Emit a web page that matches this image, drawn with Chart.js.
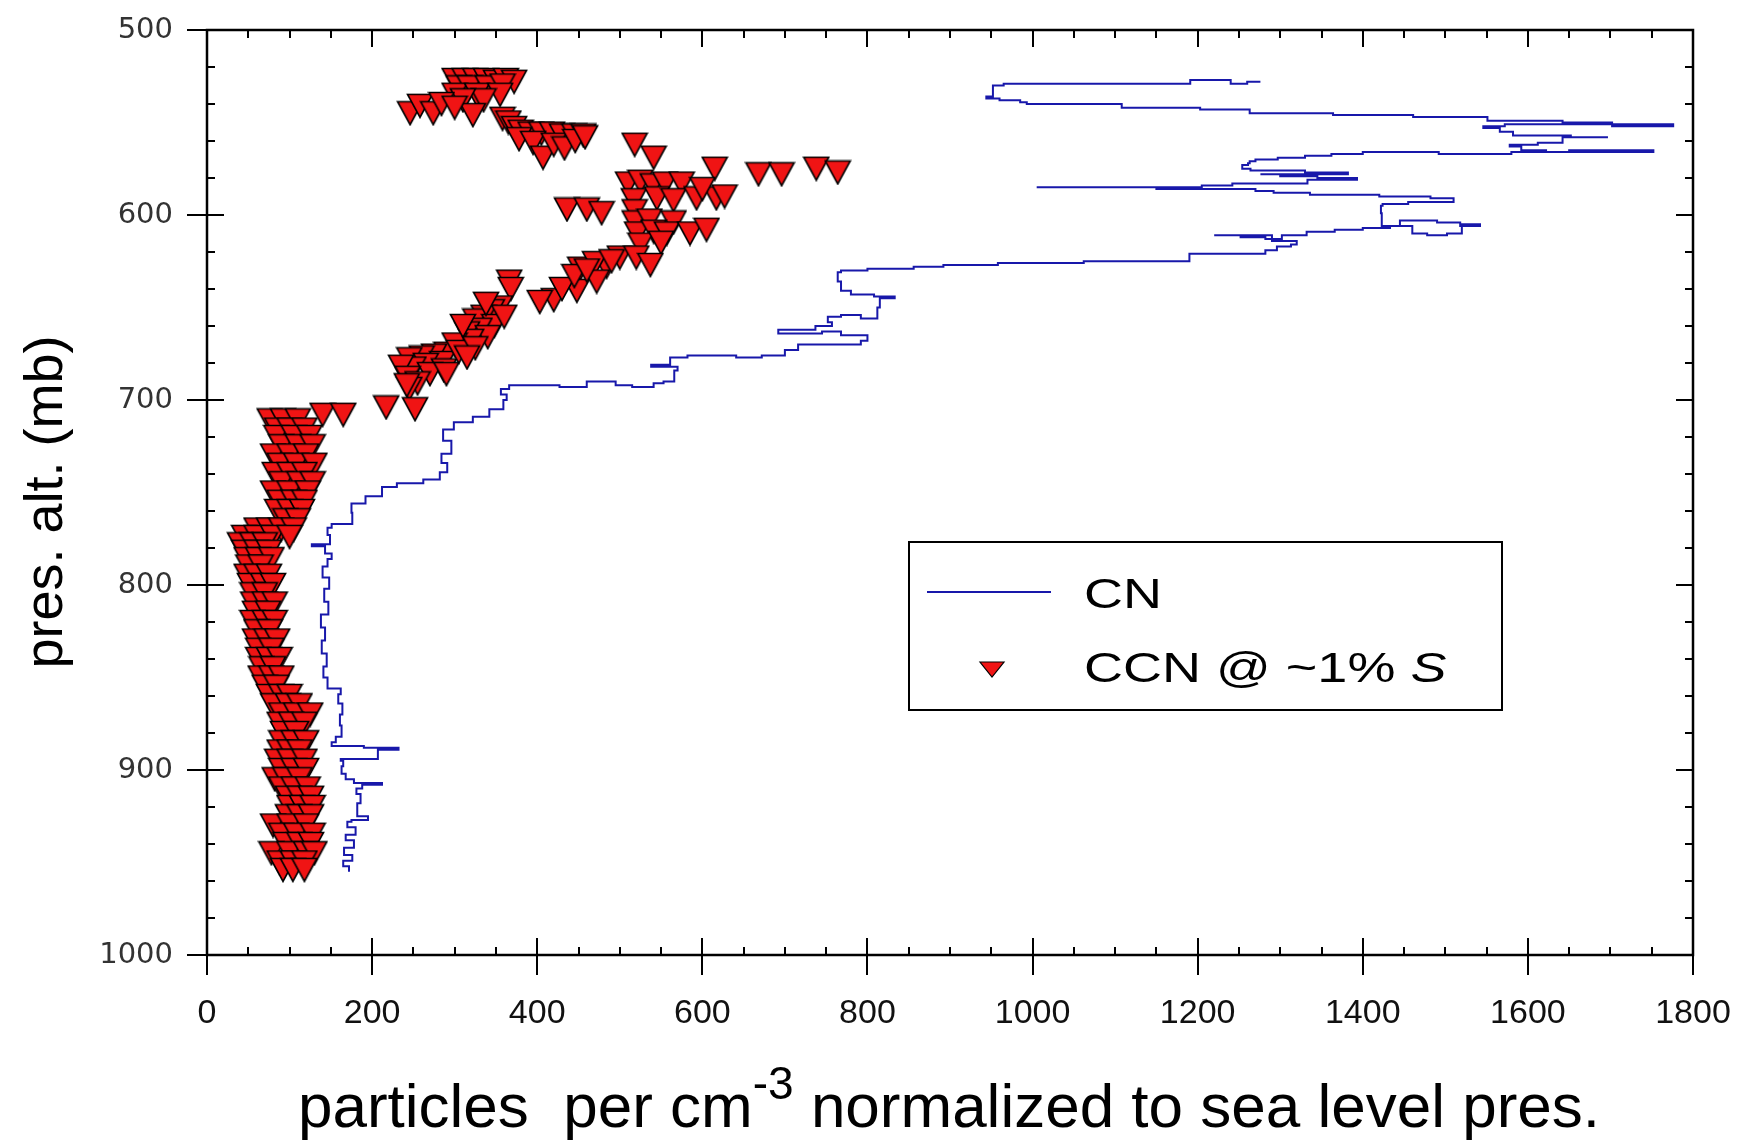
<!DOCTYPE html>
<html>
<head>
<meta charset="utf-8">
<title>CN / CCN profile</title>
<script src="https://cdn.jsdelivr.net/npm/chart.js@4.4.0/dist/chart.umd.min.js"></script>
<style>
  html, body { margin: 0; padding: 0; background: #fff; }
  canvas { display: block; }
</style>
</head>
<body>
<canvas id="grafico" width="1748" height="1141"></canvas>
<script>
// Eixos
const xTicks = [0, 200, 400, 600, 800, 1000, 1200, 1400, 1600, 1800];
const yTicks = [500, 600, 700, 800, 900, 1000];
const xMinorStep = 50;
const yMinorStep = 20;
const tituloY = "pres. alt. (mb)";
const tituloX = ["particles  per cm", "-3", " normalized to sea level pres."];
const seriesNames = ["CN", "CCN @ ~1% S"];

// CN (particulas/cm3) e pressao (mb), de baixo para cima
const cnConc = [172,165,176,166,178,168,180,170,175,195,182,186,181,188,212,178,168,163,165,162,207,232,190,151,156,163,161,164,159,162,
  146,141,145,139,143,138,147,142,148,140,146,151,143,127,149,146,151,176,175,192,
  212,230,262,282,291,284,296,286,299,322,342,359,363,356,366,385,427,460,480,495,
  515,541,553,566,570,538,561,582,605,641,672,700,716,720,756,792,800,768,745,692,
  737,757,752,768,792,812,815,818,833,808,780,768,764,768,800,856,892,958,1062,1190,
  1227,1282,1296,1313,1320,1290,1220,1252,1282,1302,1332,1366,1400,1433,1460,1478,1502,1520,1542,1518,
  1490,1468,1445,1423,1422,1424,1455,1482,1510,1482,1420,1336,1292,1270,1219,1150,1005,1110,1205,1242,
  1292,1333,1393,1345,1300,1276,1328,1382,1330,1264,1254,1261,1263,1270,1297,1330,1362,1400,1492,1580,
  1650,1700,1752,1702,1622,1592,1578,1612,1642,1697,1652,1620,1582,1566,1546,1572,1606,1702,1776,1702,
  1642,1551,1461,1364,1263,1203,1108,993,985,975,960,944,952,965,1100,1191,1215,1240,1260,1276];
const cnPres = [955,952,949,946,942,938,935,931,928,927,925,918,913,910,908,907,905,902,898,895,894,889,888,887,885,882,876,870,864,859,
  856,850,844,837,830,823,816,809,802,796,790,786,783,779,778,773,769,767,761,756,
  752,747,745,743,739,734,729,722,716,712,709,705,700,697,694,692,692,693,690,690,
  692,693,691,690,684,682,681,677,676,676,677,676,673,670,670,670,668,665,663,664,
  662,660,658,655,654,656,650,645,645,644,643,641,636,631,630,629,628,627,626,625,
  621,621,619,617,616,614,611,611,612,613,611,609,608,607,606,610,611,610,605,606,
  604,603,603,606,599,595,594,593,593,591,590,589,588,587,586,586,585,585,585,584,
  583,583,581,580,579,578,578,578,577,576,575,573,572,571,570,569,568,567,566,567,
  566,565,565,566,566,565,563,562,561,558,558,557,557,555,553,552,551,551,552,551,
  550,549,547,546,545,543,542,540,539,538,538,537,536,530,529,529,527,527,529,528];

// CCN @ ~1% S, parte de cima (acima de ~705 mb)
const ccnConc = [300,312,325,338,350,362,372,305,318,340,358,300,327,355,335,310,
  246,258,274,284,322,300,
  358,365,372,380,392,405,418,430,445,456,378,395,407,420,433,446,458,
  518,541,510,525,540,555,575,517,545,565,593,617,615,668,696,738,764,627,600,436,460,478,
  518,518,536,565,521,541,557,585,605,525,550,500,520,537,484,452,470,490,448,472,420,403,366,430,445,460,
  368,355,345,335,325,348,330,315,340,320,300,310,360,338,290,275,260,245,285,265,250,235,287,270,243,
  255,245,217,252,242,290,305,325,315];
const ccnPres = [527,527,527,527,528,527,528,531,531,531,530,535,535,535,538,538,
  545,541,545,540,546,542,
  548,550,553,555,556,556,556,557,557,557,559,561,569,562,564,560,558,
  562,569,583,582,584,583,583,592,591,592,591,591,575,578,578,575,577,590,586,597,597,599,
  598,604,603,604,610,609,610,610,608,616,615,623,623,627,628,629,626,625,641,636,646,647,636,640,633,630,
  640,650,652,655,657,660,662,664,666,668,670,660,655,648,675,676,677,678,680,681,683,682,684,686,688,
  691,694,704,705,692,686,674,672,677];

// CCN, coluna de baixo: uma linha por nivel de pressao
const ccnRowPres = [708,711,716,720,725,730,735,740,745,750,755,760,765,770,774,778,782,786,790,795,
  800,805,810,815,820,825,830,835,840,845,850,855,860,865,870,875,880,885,890,895,
  900,905,910,915,920,925,930,935,940,945,950,954];
const ccnRowConc = [[140,165],[76,92,110],[85,100,118],[84,105,124],[90,110,128],[80,100,120],[88,108,130],[82,100,118],
  [90,112,128],[80,100,122],[88,105,118],[85,100,115],[95,110],[60,75,90,105],[45,60,80,100],[40,55,70],
  [45,60,75],[48,62,78],[50,65],[48,60,75],[52,68,80],[55,70],[56,70,82],[58,74],[55,70,82],[60,76],
  [58,72,85],[62,78],[62,75,88],[66,80],[65,78,90],[70,84],[75,90,100],[80,98,112],[90,108,125],[88,102,118],
  [92,108],[90,105,120],[88,100,112],[85,100,118],[90,105,120],[82,95,112],[90,105,122],[98,112,126],
  [100,115,128],[98,112,126],[80,100,120],[90,108,128],[95,112,126],[78,100,120,130],[88,104,118],[92,104,118]];

const corCN = "#1818aa";
const corCCN = "#f01414";

// monta os pontos
const cnData = cnConc.map((v, i) => ({ x: v, y: cnPres[i] }));
const ccnData = ccnConc.map((v, i) => ({ x: v, y: ccnPres[i] }));
ccnRowPres.forEach((p, i) => {
  ccnRowConc[i].forEach(v => ccnData.push({ x: v, y: p }));
});

// triangulo invertido vermelho com borda preta
function criarMarcador(largura, altura) {
  const c = document.createElement("canvas");
  c.width = largura + 3;
  c.height = altura + 3;
  const g = c.getContext("2d");
  g.beginPath();
  g.moveTo(1.5, 1.5);
  g.lineTo(largura + 1.5, 1.5);
  g.lineTo(largura / 2 + 1.5, altura + 1.5);
  g.closePath();
  g.fillStyle = corCCN;
  g.fill();
  g.lineWidth = 1.6;
  g.strokeStyle = "#000";
  g.stroke();
  return c;
}
const marcador = criarMarcador(25, 23);

const fonte = '"Liberation Sans", Arial, sans-serif';

const moldura = {
  id: "moldura",
  beforeDraw(chart) {
    const ctx = chart.ctx;
    ctx.save();
    ctx.fillStyle = "#fff";
    ctx.fillRect(0, 0, chart.width, chart.height);
    ctx.restore();
  },
  afterDraw(chart) {
    const { ctx, chartArea: a } = chart;
    const sx = chart.scales.x;
    const sy = chart.scales.y;
    ctx.save();

    // tracinhos
    ctx.strokeStyle = "#000";
    ctx.lineWidth = 2;
    ctx.beginPath();
    for (let v = xTicks[0]; v <= xTicks[xTicks.length - 1]; v += xMinorStep) {
      const px = Math.round(sx.getPixelForValue(v));
      const major = xTicks.includes(v);
      const dentro = major ? 17 : 8;
      ctx.moveTo(px, a.bottom + (major ? 20 : 0));
      ctx.lineTo(px, a.bottom - dentro);
      ctx.moveTo(px, a.top);
      ctx.lineTo(px, a.top + dentro);
    }
    for (let v = yTicks[0]; v <= yTicks[yTicks.length - 1]; v += yMinorStep) {
      const py = Math.round(sy.getPixelForValue(v));
      const major = yTicks.includes(v);
      const dentro = major ? 17 : 8;
      ctx.moveTo(a.left - (major ? 20 : 0), py);
      ctx.lineTo(a.left + dentro, py);
      ctx.moveTo(a.right, py);
      ctx.lineTo(a.right - dentro, py);
    }
    ctx.stroke();
    ctx.lineWidth = 2.5;
    ctx.strokeRect(a.left, a.top, a.right - a.left, a.bottom - a.top);

    // titulo do eixo y
    ctx.fillStyle = "#000";
    ctx.save();
    ctx.translate(47, 502);
    ctx.rotate(-Math.PI / 2);
    ctx.font = "54px " + fonte;
    ctx.textAlign = "center";
    ctx.textBaseline = "middle";
    ctx.fillText(tituloY, 0, 0);
    ctx.restore();

    // titulo do eixo x com expoente
    ctx.textAlign = "left";
    ctx.textBaseline = "alphabetic";
    ctx.font = "62px " + fonte;
    const w1 = ctx.measureText(tituloX[0]).width;
    const w3 = ctx.measureText(tituloX[2]).width;
    ctx.font = "46px " + fonte;
    const w2 = ctx.measureText(tituloX[1]).width;
    const x0 = 949 - (w1 + w2 + w3) / 2;
    const base = 1127;
    ctx.font = "62px " + fonte;
    ctx.fillText(tituloX[0], x0, base);
    ctx.font = "46px " + fonte;
    ctx.fillText(tituloX[1], x0 + w1, base - 28);
    ctx.font = "62px " + fonte;
    ctx.fillText(tituloX[2], x0 + w1 + w2, base);

    // legenda
    ctx.strokeStyle = "#000";
    ctx.lineWidth = 2;
    ctx.strokeRect(909, 542, 593, 168);
    ctx.strokeStyle = corCN;
    ctx.lineWidth = 2;
    ctx.beginPath();
    ctx.moveTo(927, 592);
    ctx.lineTo(1051, 592);
    ctx.stroke();
    ctx.beginPath();
    ctx.moveTo(980, 662);
    ctx.lineTo(1004, 662);
    ctx.lineTo(992, 677);
    ctx.closePath();
    ctx.fillStyle = corCCN;
    ctx.fill();
    ctx.strokeStyle = "#000";
    ctx.lineWidth = 1.2;
    ctx.stroke();

    ctx.fillStyle = "#000";
    ctx.textBaseline = "middle";
    ctx.save();
    ctx.translate(1084, 596);
    ctx.scale(1, 0.8);
    ctx.font = "54px " + fonte;
    ctx.fillText(seriesNames[0], 0, 0);
    ctx.restore();
    ctx.save();
    ctx.translate(1084, 670);
    ctx.scale(1, 0.8);
    ctx.font = "54px " + fonte;
    const txt = seriesNames[1].slice(0, -1);
    ctx.fillText(txt, 0, 0);
    const wt = ctx.measureText(txt).width;
    ctx.font = "italic 54px " + fonte;
    ctx.fillText(seriesNames[1].slice(-1), wt, 0);
    ctx.restore();

    ctx.restore();
  }
};

new Chart(document.getElementById("grafico"), {
  type: "scatter",
  data: {
    datasets: [
      {
        label: seriesNames[0],
        data: cnData,
        showLine: true,
        stepped: "after",
        borderColor: corCN,
        borderWidth: 2,
        pointRadius: 0,
        pointHoverRadius: 0,
        order: 2
      },
      {
        label: seriesNames[1],
        data: ccnData,
        pointStyle: marcador,
        pointRadius: 12,
        pointHoverRadius: 12,
        order: 1
      }
    ]
  },
  options: {
    responsive: false,
    animation: false,
    events: [],
    layout: { padding: { top: 30, right: 55, left: 0, bottom: 0 } },
    plugins: {
      legend: { display: false },
      tooltip: { enabled: false }
    },
    scales: {
      x: {
        type: "linear",
        min: xTicks[0],
        max: xTicks[xTicks.length - 1],
        afterBuildTicks: s => { s.ticks = xTicks.map(v => ({ value: v })); },
        afterFit: s => { s.height = 186; s.paddingLeft = 0; s.paddingRight = 0; },
        grid: { display: false, drawTicks: false },
        border: { display: false },
        ticks: {
          padding: 38,
          maxRotation: 0,
          color: "#111",
          font: { family: "Liberation Sans", size: 34 },
          callback: v => String(v)
        }
      },
      y: {
        type: "linear",
        reverse: true,
        min: yTicks[0],
        max: yTicks[yTicks.length - 1],
        afterBuildTicks: s => { s.ticks = yTicks.map(v => ({ value: v })); },
        afterFit: s => { s.width = 207; s.paddingTop = 0; s.paddingBottom = 0; },
        grid: { display: false, drawTicks: false },
        border: { display: false },
        ticks: {
          padding: 34,
          color: "#333",
          font: { family: "DejaVu Sans", size: 29 },
          callback: v => String(v)
        }
      }
    }
  },
  plugins: [moldura]
});
</script>
</body>
</html>
